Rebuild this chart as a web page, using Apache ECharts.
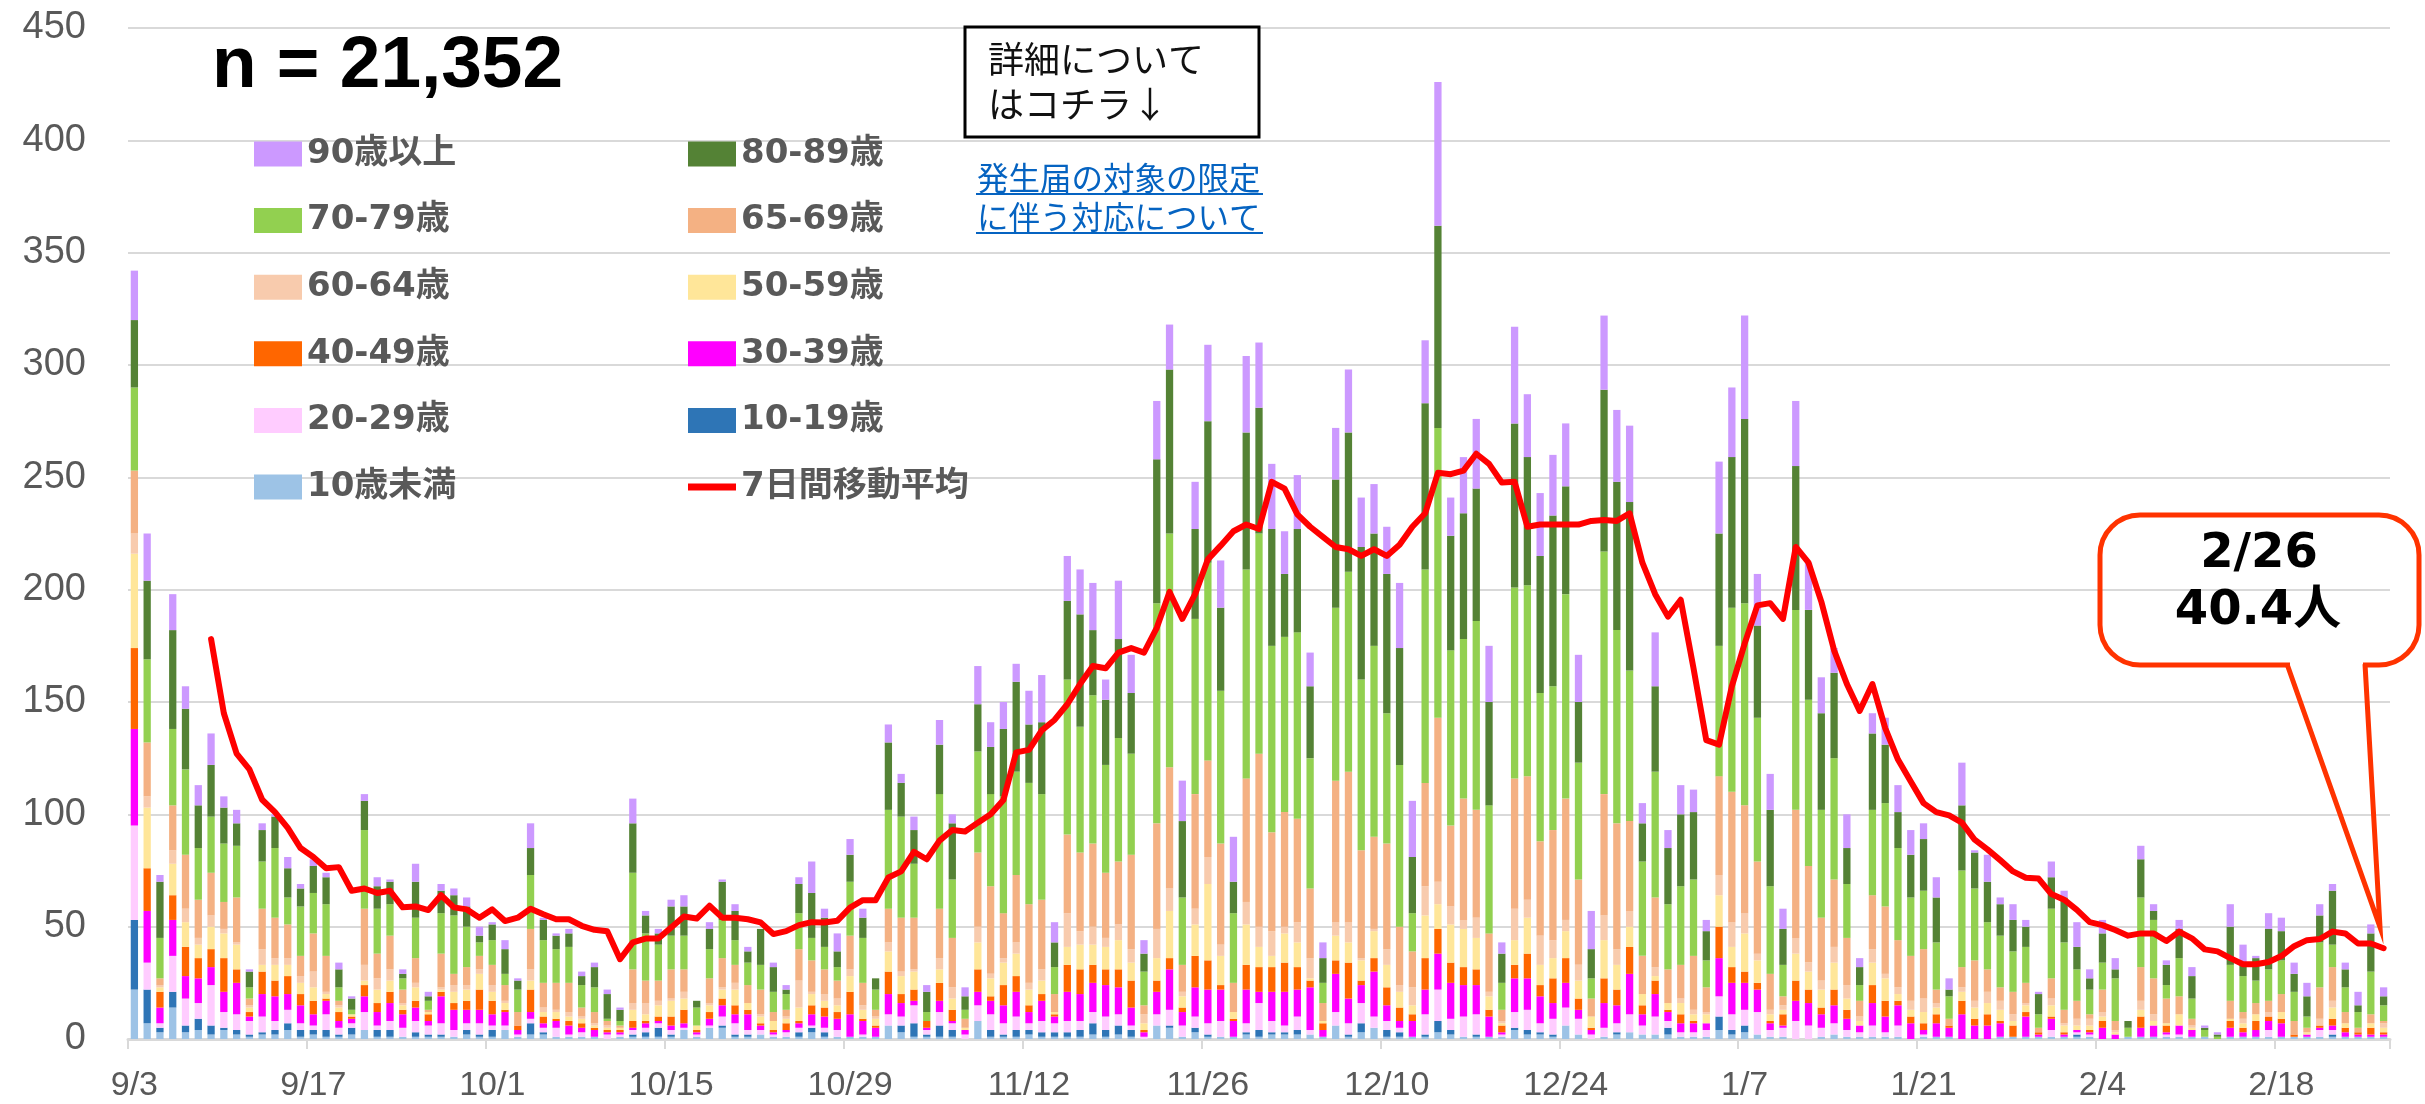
<!DOCTYPE html>
<html><head><meta charset="utf-8">
<script src="https://cdn.jsdelivr.net/npm/echarts@6/dist/echarts.min.js"></script>
<style>html,body{margin:0;padding:0;background:#fff}#c{width:2425px;height:1104px}</style>
</head><body><div id="c"></div>
<script>
// ---- categories (9/3 .. 2/26) ----
const monthSpans = [[9,3,30],[10,1,31],[11,1,30],[12,1,31],[1,1,31],[2,1,26]];
const categories = [];
monthSpans.forEach(([m,s,e])=>{for(let d=s;d<=e;d++)categories.push(m+'/'+d);});
const tickLabels = ['9/3','9/17','10/1','10/15','10/29','11/12','11/26','12/10','12/24','1/7','1/21','2/4','2/18'];
const yTicks = [0,50,100,150,200,250,300,350,400,450];

// ---- series values (daily counts) ----
const age0_9 = [22,7,3,14,3,4,2,4,2,1, 2,2,4,1,2,1,1,2,4,1, 1,1,1,1,1,1,2,1,1,4, 1,2,2,1,1,1,1,0,1,1, 1,1,1,4,1,5,5,1,1,2, 1,1,1,3,1,1,1,1,1,6, 3,1,1,1,1,0,8,1,1,1, 2,1,1,1,1,2,1,2,1,0, 6,5,1,3,1,1,1,2,1,2, 2,2,2,1,6,1,3,5,1,1, 1,1,3,2,1,1,1,1,4,2, 2,1,6,2,0,1,2,3,2,2, 2,1,1,1,4,2,3,2,1,1, 0,0,1,2,1,1,1,1,1,0, 1,1,1,0,0,0,1,1,1,1, 1,1,1,1,0,0,1,1,1,1, 1,1,1,0,1,1,1,1,1,1, 1,1,1,1,1,1,1];
const age10_19 = [31,15,2,7,3,5,4,1,2,1, 1,2,3,3,2,3,1,3,0,3, 3,0,2,1,1,0,2,1,3,0, 0,5,1,0,0,0,0,0,0,1, 2,4,1,0,0,0,1,1,1,0, 0,0,2,2,2,0,0,0,0,0, 3,6,1,5,3,0,0,3,1,3, 2,2,2,2,3,5,3,4,3,0, 0,1,0,2,1,0,0,1,3,1, 1,2,0,0,0,1,4,0,3,2, 0,1,5,2,0,1,0,0,1,2, 1,1,0,0,0,0,1,0,0,0, 3,0,0,0,6,2,3,0,0,0, 0,0,0,0,0,0,0,0,0,0, 0,0,0,0,0,0,0,0,0,0, 0,0,1,0,0,0,0,0,0,0, 0,0,0,0,0,0,0,0,0,0, 0,0,1,0,0,0,0];
const age20_29 = [42,12,2,16,12,7,18,7,7,6, 7,4,6,3,2,7,3,2,8,2, 4,4,5,4,5,3,3,5,2,2, 1,2,2,4,1,2,0,2,1,2, 2,2,2,1,1,1,4,5,2,2, 1,2,2,1,2,3,0,1,0,5, 4,8,2,6,3,2,7,7,5,6, 3,5,4,5,4,5,6,5,2,1, 5,7,5,5,5,7,0,4,12,5, 3,6,2,0,6,5,9,5,4,2, 0,9,14,5,9,9,0,1,7,9, 4,7,8,7,2,4,4,8,4,8, 3,2,2,3,9,7,7,10,3,4, 8,6,4,5,3,2,5,2,5,0, 1,0,0,0,0,0,0,0,0,0, 3,0,1,1,0,0,0,0,0,1, 1,0,0,0,0,0,0,3,0,0, 0,3,2,0,0,0,0];
const age30_39 = [43,23,7,16,10,11,8,9,14,2, 10,11,7,8,5,6,3,2,7,6, 8,6,6,2,12,9,6,6,5,6, 2,3,2,3,4,2,3,1,1,1, 2,1,2,2,1,3,5,4,7,2, 1,1,2,5,5,5,10,6,4,9, 6,2,1,5,1,2,6,6,8,11, 5,9,3,13,12,13,14,12,8,2, 10,18,6,13,15,14,7,15,5,13, 15,12,19,3,17,11,8,20,7,3, 7,11,16,16,14,13,9,1,15,14, 12,7,11,4,2,11,8,18,5,10, 4,4,4,3,17,14,12,10,3,1, 9,10,6,8,5,3,10,7,9,7, 2,6,4,11,6,6,6,0,9,1, 5,1,1,1,5,2,0,4,5,1, 4,3,0,0,4,2,3,4,6,0, 1,1,2,2,1,1,1];
const age40_49 = [36,19,7,11,13,9,8,15,6,2, 10,7,8,5,6,1,4,1,5,4, 5,2,3,3,2,3,4,9,6,1, 2,10,3,1,2,2,1,1,1,3, 1,2,4,6,1,3,3,4,2,1, 1,3,1,4,4,3,10,1,1,10, 4,5,3,8,5,0,10,2,9,7, 3,3,1,12,11,8,7,8,12,1, 5,5,2,14,13,2,1,11,11,11, 13,10,3,3,6,16,2,6,8,6, 3,14,11,9,8,7,3,3,6,11, 5,11,11,5,1,11,7,12,4,6, 1,4,1,0,14,7,5,3,1,5, 9,6,3,7,4,0,8,7,2,3, 3,4,1,6,3,5,1,5,2,1, 1,1,0,1,3,0,0,5,0,3, 0,0,0,0,3,2,4,2,2,1, 0,1,3,2,1,3,1];
const age50_59 = [42,27,2,14,11,6,10,11,11,2, 3,7,5,5,6,2,2,1,2,6, 5,2,6,1,1,5,5,7,4,3, 0,4,2,3,2,2,1,1,1,5, 3,5,7,5,2,3,4,7,3,3, 4,2,6,5,3,3,7,4,3,9, 8,8,0,6,5,1,12,8,10,10, 7,6,1,8,11,9,10,13,8,3, 10,21,5,14,34,13,3,18,9,5, 13,11,1,1,11,9,9,12,10,7, 4,19,11,17,17,14,6,1,11,16, 9,9,12,8,5,17,11,9,5,2, 3,5,3,4,14,9,17,10,3,2, 12,8,8,12,5,2,10,10,3,3, 5,3,0,4,5,5,5,2,3,0, 5,3,2,2,2,1,0,3,2,1, 5,1,0,0,1,2,3,0,3,0, 1,0,5,2,0,2,2];
const age60_64 = [9,5,1,6,6,3,5,2,1,1, 7,3,3,3,7,1,1,0,7,5, 5,1,2,0,1,3,2,2,3,1, 0,5,2,1,2,1,1,1,0,3, 5,2,1,3,0,1,1,3,0,1, 0,1,12,1,3,3,3,2,1,4, 2,1,0,5,5,0,7,2,2,5, 3,5,0,15,6,8,4,7,6,4, 13,10,2,7,12,5,0,10,9,11, 3,9,9,0,6,9,1,1,7,3, 8,13,10,8,4,9,2,1,14,8, 13,8,5,7,0,11,7,7,0,4, 0,2,2,1,9,11,9,3,2,2, 7,4,4,7,6,2,6,2,3,4, 6,2,0,2,3,5,4,3,1,0, 3,1,3,3,2,1,0,4,3,0, 0,1,0,0,0,2,0,2,0,0, 0,3,3,0,0,0,2];
const age65_69 = [28,24,3,20,24,17,19,12,20,3, 18,18,15,9,17,16,2,0,25,11, 15,6,11,1,15,5,8,6,9,7, 6,18,11,12,13,4,5,2,1,15, 10,9,13,10,0,11,13,8,8,11, 4,3,14,14,11,8,15,10,3,15, 24,23,0,22,22,4,33,39,20,30, 35,31,8,35,35,37,29,28,42,4, 47,54,12,51,43,45,13,55,77,44, 51,46,31,8,63,67,48,41,47,26, 16,46,73,36,54,48,26,5,58,55, 42,49,54,38,8,54,56,40,17,31, 15,15,24,11,44,58,48,41,16,4, 57,43,28,30,21,7,24,30,21,20, 22,6,3,9,18,10,6,10,9,2, 9,6,8,2,10,4,0,15,16,11, 8,3,0,0,8,3,5,5,8,6, 2,14,15,5,2,4,1];
const age70_79 = [37,37,18,34,38,23,25,26,23,5, 21,31,12,22,18,23,6,2,35,20, 14,5,18,4,18,26,18,6,11,5, 10,24,19,15,16,10,11,1,2,43, 21,16,15,15,8,13,17,11,10,11, 9,7,16,10,10,6,24,20,9,44, 45,24,4,51,26,4,45,41,52,46, 54,47,12,69,56,66,48,55,45,15, 98,104,30,78,88,68,31,93,98,83, 78,83,58,9,77,89,76,85,58,72, 17,95,129,78,71,84,57,12,85,85, 66,64,91,52,9,108,86,67,42,56, 29,35,34,12,58,82,90,64,39,14, 89,74,48,54,24,7,38,46,41,26, 26,21,10,43,32,21,23,18,16,6, 31,30,14,11,12,19,4,31,26,6, 17,9,3,1,16,16,10,14,15,13, 5,20,10,11,7,19,7];
const age80_89 = [30,35,25,44,27,19,23,16,10,7, 14,14,13,8,12,12,8,5,13,10, 10,2,16,2,10,9,9,3,7,11, 4,12,9,6,6,4,9,11,5,22, 8,5,13,13,3,9,17,13,5,16, 11,2,13,20,13,7,12,9,5,30, 15,15,9,22,25,6,21,21,30,40, 26,32,11,35,50,29,29,44,27,8, 64,73,34,40,63,37,14,61,56,52, 28,46,32,11,57,62,59,50,62,52, 25,74,90,51,56,59,46,13,73,57, 61,76,48,27,13,72,66,75,17,38, 25,32,30,13,50,67,82,41,34,16, 64,40,43,38,16,8,34,26,16,19, 23,20,3,29,16,18,14,14,9,9, 14,20,10,5,13,4,3,17,4,9, 13,10,1,1,17,6,10,18,13,8, 9,12,24,8,3,17,4];
const age90plus = [22,21,3,16,10,9,14,5,6,1, 3,1,5,2,3,2,3,1,3,4, 1,2,8,2,3,3,4,4,1,4, 1,11,1,1,2,2,2,2,1,11, 2,2,3,5,0,3,1,3,2,0, 2,2,3,14,4,8,7,4,0,8, 4,6,3,11,4,4,17,11,12,8, 15,21,9,20,20,21,9,26,17,6, 26,20,18,21,34,21,20,34,29,29, 19,24,15,7,23,28,22,22,21,29, 25,28,64,17,25,31,25,5,43,28, 28,27,28,21,17,33,32,34,9,24, 8,13,10,5,32,31,46,23,16,9, 29,21,16,11,15,4,9,12,12,11, 7,9,5,19,1,12,3,7,3,1, 7,3,11,4,6,5,0,6,3,2, 4,4,1,1,10,8,1,7,6,5, 6,5,3,3,6,4,4];
const movingAvg = [null,null,null,null,null,null,178,145,127,120, 106.5,101,94,85,81,76,76.5,66,67,65, 66,58.6,59,57.4,64,58.6,57.7,54,57.7,52.5, 54,58,55.5,53.3,53.3,50.4,48.6,48,35.5,43, 44.7,44.7,49.6,54.5,53.6,59.3,54,54,53.3,51.9, 46.7,48,50.7,52,51.9,52.6,58.5,61.8,61.8,71.9, 74.6,83.3,80,88.3,93,92.4,96.3,100,106.4,127.6, 128.7,137.4,142,149,158,166,165,172,174,172, 183,199,187,198,213.5,219.6,226,229,227,248, 245,233.5,228,223.5,219,218,215,218,215,220, 228,234,252,251.4,253,260.5,256,247.7,248,228, 229,229,229,229,230.6,231,230.6,234,212,198, 188,195.5,165,133,131,157,176,193,194,187, 219,212,194.7,173,158,146,158,138.4,124.4,114.6, 105,101,99.5,96.3,88.7,84.4,79.6,74.6,71.8,71.4, 64.5,62,57.5,52,50.7,48.5,46,47,47,43.6, 47.8,44.8,39.9,39,36,33.3,33.3,34.3,36.9,41.3, 44,44.5,47.8,47,42.5,42.5,40.4];

const seriesNames = ['10歳未満','10-19歳','20-29歳','30-39歳','40-49歳','50-59歳','60-64歳','65-69歳','70-79歳','80-89歳','90歳以上'];
const seriesValues = [age0_9,age10_19,age20_29,age30_39,age40_49,age50_59,age60_64,age65_69,age70_79,age80_89,age90plus];
const seriesColors = ['#9DC3E6','#2E75B6','#FFCCFF','#FF00FF','#FF6600','#FFE699','#F8CBAD','#F4B183','#92D050','#548235','#CC99FF'];
const lineName = '7日間移動平均';

const FONT_NUM = '"DejaVu Sans","Noto Sans CJK JP",sans-serif';
const FONT_AXIS = '"Liberation Sans",Arial,sans-serif';

const chart = echarts.init(document.getElementById('c'), null, {renderer:'canvas'});

const barSeries = seriesNames.map((n,i)=>({
  name:n, type:'bar', stack:'total', data:seriesValues[i], barWidth:'57%',
  itemStyle:{color:seriesColors[i]}, emphasis:{disabled:true}
}));

const legendText = {fontSize:34, fontWeight:'bold', color:'#595959', fontFamily:FONT_NUM, lineHeight:34};

const option = {
  animation:false,
  backgroundColor:'#ffffff',
  grid:{left:128, right:35, top:28, bottom:65, containLabel:false},
  xAxis:{
    type:'category', data:categories, boundaryGap:true,
    axisLine:{lineStyle:{color:'#D9D9D9', width:3}},
    axisTick:{show:true, interval:13, length:10, alignWithLabel:false, lineStyle:{color:'#D9D9D9', width:2}},
    axisLabel:{interval:13, fontSize:34, color:'#595959', margin:30, fontFamily:FONT_AXIS,
      formatter:(v)=> tickLabels.includes(v) ? v : ''}
  },
  yAxis:{
    type:'value', min:yTicks[0], max:yTicks[yTicks.length-1], interval:50,
    axisLine:{show:false}, axisTick:{show:false},
    axisLabel:{fontSize:38, color:'#595959', margin:42, fontFamily:FONT_AXIS},
    splitLine:{lineStyle:{color:'#D9D9D9', width:2}}
  },
  legend:[
    {orient:'vertical', left:249, top:132, itemWidth:48, itemHeight:25, itemGap:32.6,
     selectedMode:false, textStyle:legendText,
     data:[{name:'90歳以上',icon:'rect'},{name:'70-79歳',icon:'rect'},{name:'60-64歳',icon:'rect'},{name:'40-49歳',icon:'rect'},{name:'20-29歳',icon:'rect'},{name:'10歳未満',icon:'rect'}]},
    {orient:'vertical', left:683, top:132, itemWidth:48, itemHeight:25, itemGap:32.6,
     selectedMode:false, textStyle:legendText,
     data:[{name:'80-89歳',icon:'rect'},{name:'65-69歳',icon:'rect'},{name:'50-59歳',icon:'rect'},{name:'30-39歳',icon:'rect'},{name:'10-19歳',icon:'rect'},
       {name:lineName, icon:'path://M0,0 L56,0 L56,8 L0,8 Z'}]}
  ],
  series: barSeries.concat([{
    name:lineName, type:'line', data:movingAvg, symbol:'none', smooth:false, z:5,
    lineStyle:{color:'#FF0000', width:6, join:'round', cap:'round'},
    itemStyle:{color:'#FF0000'}, emphasis:{disabled:true}
  }]),
  graphic:[
    {type:'text', z:100, style:{text:'n = 21,352', x:212, y:67, textVerticalAlign:'middle',
      font:'bold 73px "Liberation Sans", Arial, sans-serif', fill:'#000'}},
    {type:'rect', z:100, shape:{x:965, y:27, width:294, height:110}, style:{fill:'#fff', stroke:'#000', lineWidth:3}},
    {type:'text', z:101, style:{text:'詳細について', x:988, y:59, textVerticalAlign:'middle',
      font:'36px "Noto Sans CJK JP", sans-serif', fill:'#111'}},
    {type:'text', z:101, style:{text:'はコチラ↓', x:988, y:104, textVerticalAlign:'middle',
      font:'36px "Noto Sans CJK JP", sans-serif', fill:'#111'}},
    {type:'text', z:100, style:{text:'発生届の対象の限定', x:977, y:178, textVerticalAlign:'middle',
      font:'31.5px "Noto Sans CJK JP", sans-serif', fill:'#0563C1'}},
    {type:'text', z:100, style:{text:'に伴う対応について', x:977, y:217, textVerticalAlign:'middle',
      font:'31.5px "Noto Sans CJK JP", sans-serif', fill:'#0563C1'}},
    {type:'line', z:100, shape:{x1:976, y1:194, x2:1263, y2:194}, style:{stroke:'#0563C1', lineWidth:2}},
    {type:'line', z:100, shape:{x1:976, y1:233, x2:1263, y2:233}, style:{stroke:'#0563C1', lineWidth:2}},
    // callout
    {type:'rect', z:100, shape:{x:2100, y:515, width:319, height:150, r:40}, style:{fill:'none', stroke:'#FF3300', lineWidth:5}},
    {type:'line', z:101, shape:{x1:2290, y1:665, x2:2363, y2:665}, style:{stroke:'#fff', lineWidth:8}},
    {type:'polyline', z:102, shape:{points:[[2287,664],[2380,927],[2365,664]]}, style:{fill:'none', stroke:'#FF3300', lineWidth:5, lineJoin:'miter'}},
    {type:'text', z:102, style:{text:'2/26', x:2259, y:555, textAlign:'center', textVerticalAlign:'middle',
      font:'bold 48px "DejaVu Sans", "Noto Sans CJK JP", sans-serif', fill:'#000'}},
    {type:'text', z:102, style:{text:'40.4人', x:2258, y:612, textAlign:'center', textVerticalAlign:'middle',
      font:'bold 48px "DejaVu Sans", "Noto Sans CJK JP", sans-serif', fill:'#000'}}
  ]
};
chart.setOption(option);
</script></body></html>
